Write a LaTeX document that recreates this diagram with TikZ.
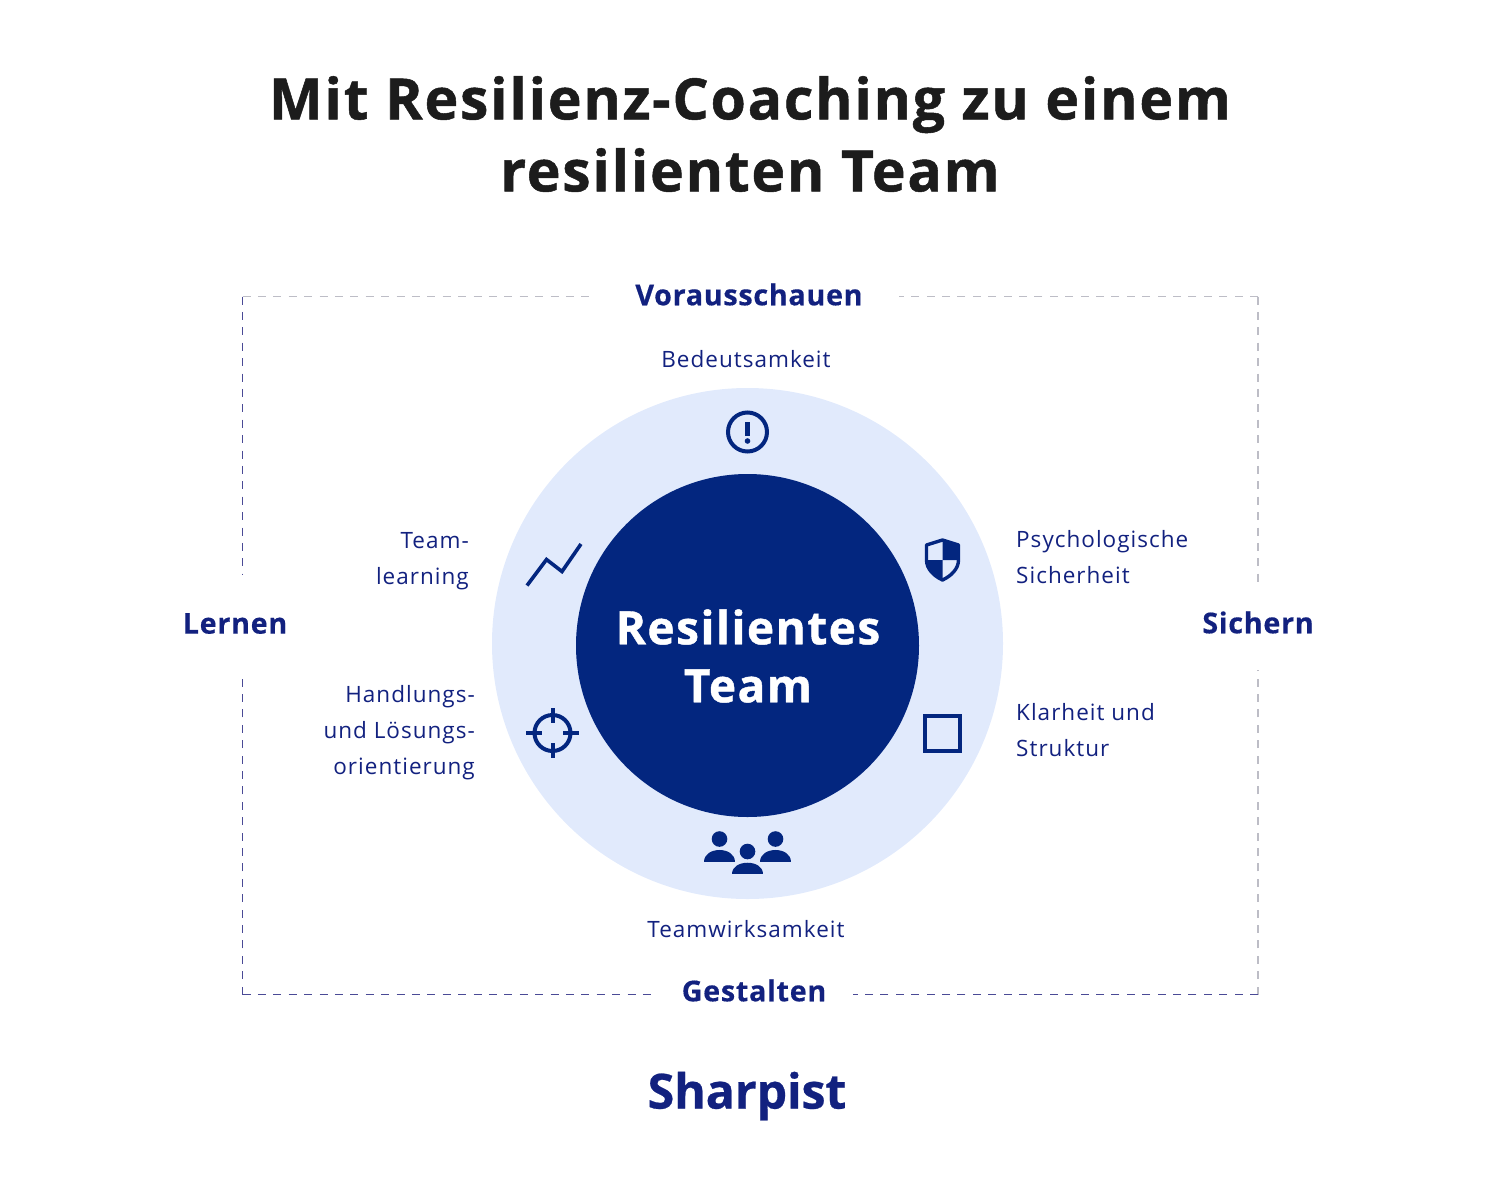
\documentclass[tikz,border=0pt]{standalone}
\usepackage{fontspec}
\setmainfont{Open Sans}
\newfontfamily\labelfont[LetterSpace=4.5]{Open Sans}
\newfontfamily\headfont[LetterSpace=2.5,BoldFeatures={FakeBold=0.4}]{Open Sans}
\newfontfamily\titlefont[LetterSpace=3.2,BoldFeatures={FakeBold=0.9}]{Open Sans}
\newfontfamily\brandfont[LetterSpace=-0.5,BoldFeatures={FakeBold=0.5}]{Open Sans}
\usepackage{tikz}
\definecolor{teamblue}{HTML}{03267F}
\definecolor{textblue}{HTML}{12217F}
\definecolor{ringblue}{HTML}{E1EAFC}
\definecolor{titleblack}{HTML}{1C1C1C}
\definecolor{edgegrey}{HTML}{BDBDC6}
\definecolor{edgeblue}{HTML}{4A4A96}
\tikzset{
    pillar/.style={text=textblue,font=\headfont\fontsize{28.7}{34}\selectfont\bfseries,inner sep=0pt},
    factor/.style={text=textblue,font=\labelfont\fontsize{22.5}{36}\selectfont,inner sep=0pt},
    edgelight/.style={draw=edgegrey,line width=1.8pt,dash pattern=on 8pt off 7.4pt},
    edgedark/.style={draw=edgeblue,line width=1.8pt,dash pattern=on 8pt off 7.4pt},
    icon/.style={draw=teamblue,line width=4pt}
}
\begin{document}
\begin{tikzpicture}[x=1pt,y=-1pt]
    \useasboundingbox (0,0) rectangle (1500,1200);
    % rings
    \fill[fill=ringblue] (747.5,643.5) circle (255.5);
    \fill[fill=teamblue] (747.5,645.5) circle (171.5);
    % texts
    \node (title) at (750,134) [align=center,text=titleblack,inner sep=0pt,font=\titlefont\fontsize{57}{72}\selectfont\bfseries] {Mit Resilienz-Coaching zu einem\\resilienten Team};
    \node (center) at (748,656) [align=center,text=white,inner sep=0pt,font=\titlefont\fontsize{46}{58}\selectfont\bfseries] {Resilientes\\Team};
    \node (brand) at (747,1096) [text=textblue,inner sep=0pt,font=\brandfont\fontsize{48.5}{60}\selectfont\bfseries] {Sharpist};
    \node (top) at (749,294.5) [pillar] {Vorausschauen};
    \node (bottom) at (754,990.5) [pillar] {Gestalten};
    \node (left) at (235,623.5) [pillar] {Lernen};
    \node (right) at (1258,622.5) [pillar] {Sichern};
    \node (meaning) at (746,359) [factor] {Bedeutsamkeit};
    \node (impact) at (746,929) [factor] {Teamwirksamkeit};
    \node (safety) at (1016,557.5) [factor,anchor=west,align=left] {Psychologische\\Sicherheit};
    \node (clarity) at (1016,730.5) [factor,anchor=west,align=left] {Klarheit und\\Struktur};
    \node (learning) at (469,561) [factor,anchor=east,align=right] {Team-\\learning};
    \node (solution) at (475,733) [factor,anchor=east,align=right] {Handlungs-\\und Lösungs-\\orientierung};
    % frame
    \coordinate (nw) at (242.5,296.5);
    \coordinate (ne) at (1258,296.5);
    \coordinate (sw) at (242.5,994.5);
    \coordinate (se) at (1258,994.5);
    \draw[edgelight] (nw) -- (592,296.5);
    \draw[edgelight] (ne) -- (899,296.5);
    \draw[edgelight] (ne) -- (1258,582);
    \draw[edgelight] (se) -- (1258,670);
    \draw[edgedark] (nw) -- (242.5,575);
    \draw[edgedark] (sw) -- (242.5,675);
    \draw[edgedark] (sw) -- (657,994.5);
    \draw[edgedark] (se) -- (853,994.5);
    % warning
    \draw[icon] (747.5,432) circle (19.5);
    \fill[fill=teamblue] (745.2,422) rectangle (749.8,436);
    \fill[fill=teamblue] (747.5,441) circle (2.8);
    % shield
    \draw[icon,line join=round,line width=3.4pt] (942.5,540) -- (958.5,545) -- (958.5,560) .. controls (958.5,569) and (951,576) .. (942.5,580) .. controls (934,576) and (926.5,569) .. (926.5,560) -- (926.5,545) -- cycle;
    \fill[fill=teamblue] (942.5,540) -- (958.5,545) -- (958.5,560) -- (942.5,560) -- cycle;
    \fill[fill=teamblue] (942.5,560) -- (926.5,560) .. controls (926.5,569) and (934,576) .. (942.5,580) -- cycle;
    % square
    \draw[icon] (925,716) rectangle (960,750.5);
    % trend
    \draw[icon,line width=3.6pt] (527,585.5) -- (546.5,559.5) -- (562,571.5) -- (581,544);
    % target
    \draw[icon] (552.5,733) circle (18);
    \draw[icon] (552.5,708) -- (552.5,723);
    \draw[icon] (552.5,743) -- (552.5,758);
    \draw[icon] (526,733) -- (542,733);
    \draw[icon] (563,733) -- (579,733);
    % people
    \foreach \px/\py in {719.5/839,775.5/839,747.5/851.5} {
        \fill[fill=teamblue] (\px,\py) circle (7.8);
        \fill[fill=teamblue] (\px-15.5,\py+22.5) .. controls (\px-15.5,\py+7) and (\px+15.5,\py+7) .. (\px+15.5,\py+22.5) -- cycle;
    }
\end{tikzpicture}
\end{document}
